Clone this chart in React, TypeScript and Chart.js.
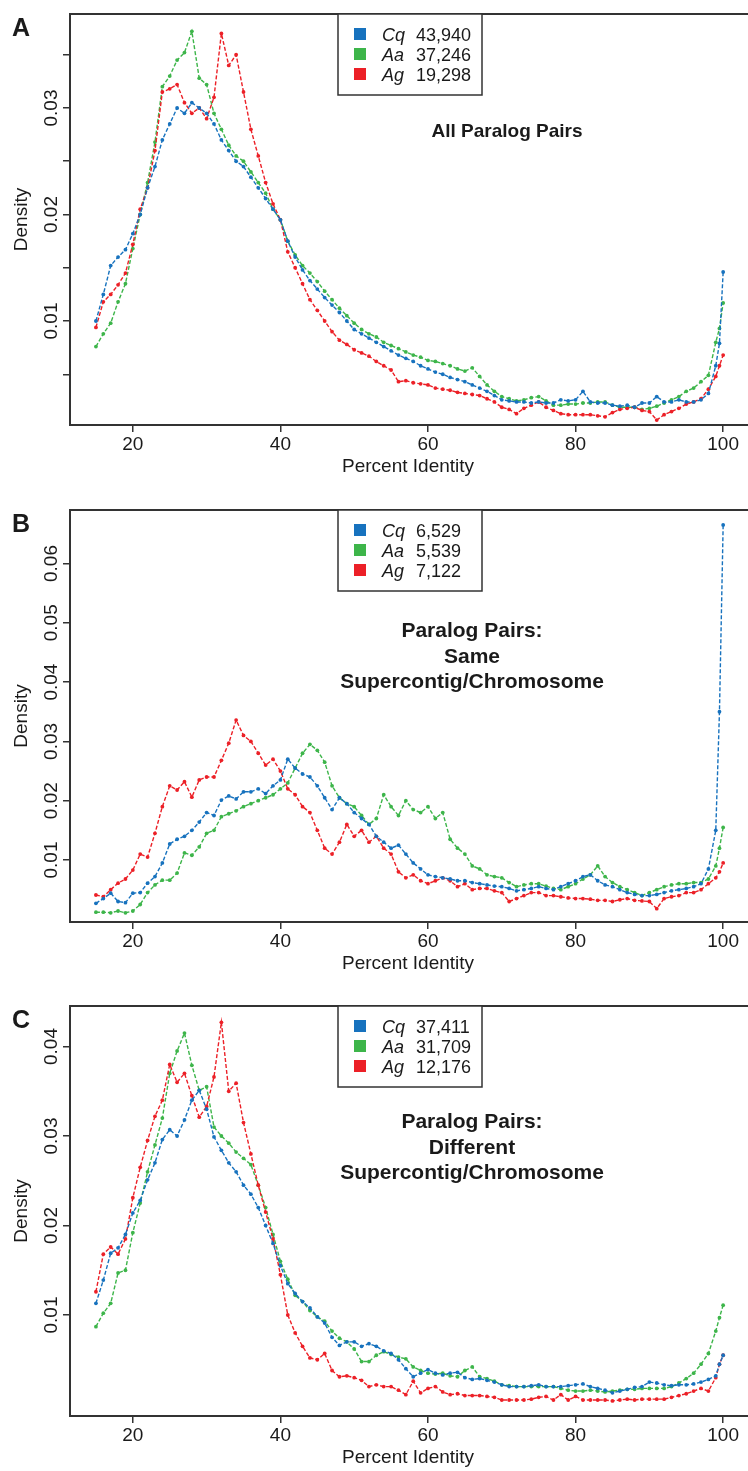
import React, { useEffect, useRef } from "react";
import { Chart, registerables } from "chart.js";

Chart.register(...registerables);

// ---------- data ----------
const PERCENT_IDENTITY = [
  15, 16, 17, 18, 19, 20, 21, 22, 23, 24,
  25, 26, 27, 28, 29, 30, 31, 32, 33, 34,
  35, 36, 37, 38, 39, 40, 41, 42, 43, 44,
  45, 46, 47, 48, 49, 50, 51, 52, 53, 54,
  55, 56, 57, 58, 59, 60, 61, 62, 63, 64,
  65, 66, 67, 68, 69, 70, 71, 72, 73, 74,
  75, 76, 77, 78, 79, 80, 81, 82, 83, 84,
  85, 86, 87, 88, 89, 90, 91, 92, 93, 94,
  95, 96, 97, 98, 99, 99.5, 100,
];

const SPECIES = ["Cq", "Aa", "Ag"];
const X_TICKS = [20, 40, 60, 80, 100];

// Panel A: all paralog pairs
const A_COUNTS = ["43,940", "37,246", "19,298"];
const A_CQ = [
  0.0100, 0.0125, 0.0152, 0.0160, 0.0167, 0.0182, 0.0200, 0.0225, 0.0245, 0.0270,
  0.0285, 0.0300, 0.0295, 0.0305, 0.0300, 0.0295, 0.0285, 0.0270, 0.0260, 0.0250,
  0.0245, 0.0235, 0.0225, 0.0215, 0.0205, 0.0195, 0.0175, 0.0160, 0.0148, 0.0138,
  0.0130, 0.0122, 0.0115, 0.0108, 0.0100, 0.0092, 0.0088, 0.0084, 0.0080, 0.0076,
  0.0072, 0.0068, 0.0065, 0.0062, 0.0058, 0.0055, 0.0052, 0.0050, 0.0047, 0.0045,
  0.0043, 0.0040, 0.0037, 0.0034, 0.0030, 0.0026, 0.0025, 0.0024, 0.0024, 0.0023,
  0.0024, 0.0023, 0.0023, 0.0026, 0.0025, 0.0026, 0.0034, 0.0024, 0.0023, 0.0023,
  0.0021, 0.0020, 0.0021, 0.0019, 0.0023, 0.0023, 0.0029, 0.0024, 0.0024, 0.0026,
  0.0024, 0.0024, 0.0026, 0.0032, 0.0058, 0.0079, 0.0146,
];
const A_AA = [
  0.0076, 0.0088, 0.0098, 0.0118, 0.0135, 0.0168, 0.0200, 0.0230, 0.0268, 0.0320,
  0.0330, 0.0345, 0.0352, 0.0372, 0.0328, 0.0322, 0.0295, 0.0280, 0.0265, 0.0255,
  0.0250, 0.0240, 0.0230, 0.0220, 0.0205, 0.0195, 0.0175, 0.0162, 0.0152, 0.0145,
  0.0137, 0.0128, 0.0120, 0.0112, 0.0105, 0.0098, 0.0092, 0.0088, 0.0085, 0.0080,
  0.0077, 0.0074, 0.0071, 0.0068, 0.0066, 0.0063, 0.0062, 0.0060, 0.0058, 0.0055,
  0.0053, 0.0056, 0.0048, 0.0040, 0.0034, 0.0029, 0.0027, 0.0025, 0.0026, 0.0028,
  0.0029, 0.0025, 0.0021, 0.0021, 0.0022, 0.0022, 0.0023, 0.0023, 0.0024, 0.0024,
  0.0021, 0.0019, 0.0019, 0.0019, 0.0017, 0.0018, 0.0020, 0.0023, 0.0026, 0.0029,
  0.0034, 0.0037, 0.0043, 0.0049, 0.0080, 0.0093, 0.0117,
];
const A_AG = [
  0.0094, 0.0118, 0.0125, 0.0134, 0.0145, 0.0172, 0.0205, 0.0225, 0.0260, 0.0315,
  0.0318, 0.0322, 0.0305, 0.0295, 0.0300, 0.0290, 0.0310, 0.0370, 0.0340, 0.0350,
  0.0315, 0.0280, 0.0255, 0.0230, 0.0210, 0.0195, 0.0165, 0.0150, 0.0135, 0.0120,
  0.0110, 0.0100, 0.0090, 0.0082, 0.0078, 0.0073, 0.0070, 0.0067, 0.0062, 0.0058,
  0.0054, 0.0043, 0.0044, 0.0042, 0.0041, 0.0040, 0.0037, 0.0036, 0.0035, 0.0033,
  0.0032, 0.0031, 0.0030, 0.0027, 0.0024, 0.0019, 0.0017, 0.0013, 0.0018, 0.0021,
  0.0024, 0.0019, 0.0016, 0.0013, 0.0012, 0.0012, 0.0012, 0.0012, 0.0011, 0.0010,
  0.0014, 0.0017, 0.0018, 0.0019, 0.0016, 0.0015, 0.0007, 0.0012, 0.0015, 0.0018,
  0.0022, 0.0024, 0.0027, 0.0036, 0.0048, 0.0058, 0.0068,
];

// Panel B: same supercontig/chromosome
const B_COUNTS = ["6,529", "5,539", "7,122"];
const B_CQ = [
  0.0027, 0.0035, 0.0044, 0.0030, 0.0028, 0.0044, 0.0045, 0.0061, 0.0072, 0.0095,
  0.0127, 0.0135, 0.0140, 0.0150, 0.0164, 0.0180, 0.0175, 0.0201, 0.0208, 0.0203,
  0.0215, 0.0215, 0.0220, 0.0212, 0.0225, 0.0235, 0.0270, 0.0255, 0.0245, 0.0240,
  0.0225, 0.0205, 0.0185, 0.0205, 0.0195, 0.0180, 0.0170, 0.0160, 0.0140, 0.0130,
  0.0120, 0.0125, 0.0110, 0.0095, 0.0085, 0.0075, 0.0072, 0.0070, 0.0068, 0.0065,
  0.0065, 0.0062, 0.0060, 0.0058, 0.0056, 0.0055, 0.0052, 0.0048, 0.0050, 0.0052,
  0.0055, 0.0052, 0.0050, 0.0055, 0.0060, 0.0065, 0.0072, 0.0075, 0.0065, 0.0058,
  0.0055, 0.0050, 0.0045, 0.0042, 0.0040, 0.0040, 0.0042, 0.0045, 0.0048, 0.0050,
  0.0052, 0.0055, 0.0060, 0.0085, 0.0150, 0.0350, 0.0665,
];
const B_AA = [
  0.0012, 0.0012, 0.0011, 0.0014, 0.0011, 0.0014, 0.0025, 0.0045, 0.0058, 0.0066,
  0.0066, 0.0078, 0.0112, 0.0108, 0.0122, 0.0145, 0.0150, 0.0173, 0.0178, 0.0183,
  0.0190, 0.0195, 0.0200, 0.0205, 0.0210, 0.0220, 0.0230, 0.0255, 0.0280, 0.0295,
  0.0285, 0.0265, 0.0225, 0.0205, 0.0195, 0.0190, 0.0175, 0.0160, 0.0170, 0.0210,
  0.0190, 0.0175, 0.0200, 0.0185, 0.0180, 0.0190, 0.0170, 0.0180, 0.0135, 0.0120,
  0.0110, 0.0090, 0.0085, 0.0075, 0.0072, 0.0070, 0.0062, 0.0055, 0.0058, 0.0060,
  0.0060, 0.0056, 0.0052, 0.0050, 0.0055, 0.0060, 0.0068, 0.0075, 0.0090, 0.0072,
  0.0062, 0.0055, 0.0050, 0.0045, 0.0040, 0.0045, 0.0050, 0.0055, 0.0058, 0.0060,
  0.0060, 0.0062, 0.0062, 0.0068, 0.0090, 0.0120, 0.0155,
];
const B_AG = [
  0.0041, 0.0038, 0.0050, 0.0061, 0.0068, 0.0083, 0.0110, 0.0105, 0.0145, 0.0190,
  0.0225, 0.0218, 0.0232, 0.0206, 0.0235, 0.0240, 0.0240, 0.0268, 0.0297, 0.0336,
  0.0310, 0.0300, 0.0280, 0.0260, 0.0270, 0.0250, 0.0220, 0.0210, 0.0190, 0.0180,
  0.0150, 0.0120, 0.0110, 0.0130, 0.0160, 0.0140, 0.0150, 0.0130, 0.0140, 0.0120,
  0.0110, 0.0080, 0.0070, 0.0075, 0.0065, 0.0060, 0.0065, 0.0070, 0.0065, 0.0055,
  0.0060, 0.0050, 0.0052, 0.0052, 0.0048, 0.0045, 0.0030, 0.0035, 0.0040, 0.0045,
  0.0045, 0.0040, 0.0040, 0.0038, 0.0036, 0.0035, 0.0035, 0.0034, 0.0032, 0.0032,
  0.0030, 0.0033, 0.0035, 0.0032, 0.0031, 0.0030, 0.0018, 0.0035, 0.0038, 0.0040,
  0.0045, 0.0045, 0.0050, 0.0060, 0.0070, 0.0080, 0.0095,
];

// Panel C: different supercontig/chromosome
const C_COUNTS = ["37,411", "31,709", "12,176"];
const C_CQ = [
  0.0113, 0.0139, 0.0169, 0.0175, 0.0190, 0.0214, 0.0228, 0.0251, 0.0270, 0.0296,
  0.0307, 0.0300, 0.0318, 0.0340, 0.0351, 0.0330, 0.0299, 0.0284, 0.0270, 0.0260,
  0.0245, 0.0235, 0.0220, 0.0200, 0.0180, 0.0155, 0.0135, 0.0124, 0.0115, 0.0108,
  0.0098, 0.0091, 0.0075, 0.0066, 0.0070, 0.0070, 0.0065, 0.0068, 0.0065, 0.0060,
  0.0057, 0.0050, 0.0040, 0.0031, 0.0035, 0.0039, 0.0035, 0.0033, 0.0035, 0.0036,
  0.0030, 0.0028, 0.0029, 0.0027, 0.0025, 0.0022, 0.0020, 0.0020, 0.0020, 0.0021,
  0.0022, 0.0020, 0.0020, 0.0020, 0.0021, 0.0022, 0.0023, 0.0020, 0.0018, 0.0016,
  0.0013, 0.0015, 0.0017, 0.0019, 0.0020, 0.0025, 0.0024, 0.0022, 0.0021, 0.0022,
  0.0022, 0.0023, 0.0025, 0.0028, 0.0032, 0.0045, 0.0055,
];
const C_AA = [
  0.0087, 0.0102, 0.0113, 0.0147, 0.0150, 0.0192, 0.0225, 0.0260, 0.0290, 0.0320,
  0.0370, 0.0395, 0.0415, 0.0379, 0.0351, 0.0355, 0.0310, 0.0300, 0.0292, 0.0282,
  0.0275, 0.0268, 0.0245, 0.0220, 0.0190, 0.0160, 0.0140, 0.0122, 0.0115, 0.0105,
  0.0098, 0.0093, 0.0082, 0.0074, 0.0070, 0.0062, 0.0048, 0.0048, 0.0055, 0.0059,
  0.0056, 0.0053, 0.0051, 0.0042, 0.0038, 0.0035, 0.0034, 0.0035, 0.0032, 0.0031,
  0.0038, 0.0042, 0.0031, 0.0029, 0.0026, 0.0022, 0.0021, 0.0020, 0.0020, 0.0020,
  0.0020, 0.0020, 0.0020, 0.0018, 0.0016, 0.0015, 0.0015, 0.0016, 0.0015, 0.0014,
  0.0015, 0.0016, 0.0017, 0.0017, 0.0018, 0.0018, 0.0018, 0.0018, 0.0020, 0.0024,
  0.0029, 0.0035, 0.0045, 0.0057, 0.0082, 0.0097, 0.0111,
];
const C_AG = [
  0.0126, 0.0168, 0.0176, 0.0168, 0.0185, 0.0231, 0.0265, 0.0295, 0.0322, 0.0340,
  0.0380, 0.0360, 0.0370, 0.0345, 0.0321, 0.0333, 0.0366, 0.0427, 0.0350, 0.0359,
  0.0315, 0.0280, 0.0245, 0.0215, 0.0185, 0.0145, 0.0100, 0.0080, 0.0065, 0.0052,
  0.0050, 0.0057, 0.0038, 0.0031, 0.0032, 0.0030, 0.0027, 0.0020, 0.0022, 0.0020,
  0.0020, 0.0016, 0.0011, 0.0026, 0.0013, 0.0018, 0.0020, 0.0014, 0.0011, 0.0012,
  0.0010, 0.0010, 0.0010, 0.0009, 0.0008, 0.0005, 0.0005, 0.0005, 0.0005, 0.0006,
  0.0008, 0.0009, 0.0005, 0.0011, 0.0005, 0.0009, 0.0005, 0.0005, 0.0005, 0.0005,
  0.0004, 0.0005, 0.0006, 0.0005, 0.0006, 0.0006, 0.0006, 0.0006, 0.0008, 0.0010,
  0.0012, 0.0015, 0.0018, 0.0015, 0.0030, 0.0045, 0.0055,
];

const A_Y_TICKS = [0.005, 0.01, 0.015, 0.02, 0.025, 0.03, 0.035];
const A_Y_LABELS = [0.01, 0.02, 0.03];
const B_Y_TICKS = [0.01, 0.02, 0.03, 0.04, 0.05, 0.06];
const B_Y_LABELS = [0.01, 0.02, 0.03, 0.04, 0.05, 0.06];
const C_Y_TICKS = [0.01, 0.02, 0.03, 0.04];
const C_Y_LABELS = [0.01, 0.02, 0.03, 0.04];

// ---------- styles ----------
const FONT = '"Liberation Sans", Arial, Helvetica, sans-serif';
const TEXT = "#1a1a1a";
const AXIS = "#333333";
const COLORS = ["#1772be", "#3db54a", "#ec2027"]; // Cq, Aa, Ag

type PanelCfg = {
  letter: string;
  canvasTop: number;
  height: number;
  plotTop: number;
  plotBottom: number;
  yMin: number;
  yMax: number;
  yTicks: number[];
  yLabels: number[];
  series: number[][];
  counts: string[];
  title: string[];
  titleSize: number;
  titleX: number;
  titleBaseline: number;
  letterBaseline: number;
};

const PANELS: PanelCfg[] = [
  {
    letter: "A", canvasTop: 0, height: 490, plotTop: 14, plotBottom: 425,
    yMin: 0.000235, yMax: 0.038826, yTicks: A_Y_TICKS, yLabels: A_Y_LABELS,
    series: [A_CQ, A_AA, A_AG], counts: A_COUNTS,
    title: ["All Paralog Pairs"], titleSize: 19, titleX: 507, titleBaseline: 137, letterBaseline: 36,
  },
  {
    letter: "B", canvasTop: 490, height: 490, plotTop: 510, plotBottom: 922,
    yMin: -0.000455, yMax: 0.06902, yTicks: B_Y_TICKS, yLabels: B_Y_LABELS,
    series: [B_CQ, B_AA, B_AG], counts: B_COUNTS,
    title: ["Paralog Pairs:", "Same", "Supercontig/Chromosome"], titleSize: 21, titleX: 472, titleBaseline: 637, letterBaseline: 532,
  },
  {
    letter: "C", canvasTop: 980, height: 491, plotTop: 1006, plotBottom: 1416,
    yMin: -0.001285, yMax: 0.044525, yTicks: C_Y_TICKS, yLabels: C_Y_LABELS,
    series: [C_CQ, C_AA, C_AG], counts: C_COUNTS,
    title: ["Paralog Pairs:", "Different", "Supercontig/Chromosome"], titleSize: 21, titleX: 472, titleBaseline: 1128, letterBaseline: 1028,
  },
];

function decorPlugin(p: PanelCfg) {
  return {
    id: "decor" + p.letter,
    afterDraw(chart: any) {
      const ctx = chart.ctx as CanvasRenderingContext2D;
      const a = chart.chartArea;
      const xs = chart.scales.x;
      const ys = chart.scales.y;
      const off = p.canvasTop;
      ctx.save();
      // frame (right side falls outside the page)
      ctx.strokeStyle = AXIS;
      ctx.lineWidth = 2;
      ctx.strokeRect(a.left, a.top, a.right - a.left + 30, a.bottom - a.top);

      ctx.fillStyle = TEXT;
      // y tick labels, rotated
      ctx.font = `19px ${FONT}`;
      for (const v of p.yLabels) {
        const y = ys.getPixelForValue(v);
        ctx.save();
        ctx.translate(a.left - 13, y);
        ctx.rotate(-Math.PI / 2);
        ctx.textAlign = "center";
        ctx.textBaseline = "alphabetic";
        ctx.fillText(v.toFixed(2), 0, 0);
        ctx.restore();
      }
      // y title
      ctx.save();
      ctx.translate(27, (a.top + a.bottom) / 2);
      ctx.rotate(-Math.PI / 2);
      ctx.textAlign = "center";
      ctx.fillText("Density", 0, 0);
      ctx.restore();
      // x tick labels
      ctx.textAlign = "center";
      ctx.textBaseline = "alphabetic";
      for (const v of X_TICKS) {
        ctx.fillText(String(v), xs.getPixelForValue(v), a.bottom + 25);
      }
      ctx.fillText("Percent Identity", (a.left + a.right) / 2, a.bottom + 47);

      // panel letter
      ctx.textAlign = "left";
      ctx.font = `bold 25px ${FONT}`;
      ctx.fillText(p.letter, 12, p.letterBaseline - off);

      // title
      ctx.textAlign = "center";
      ctx.font = `bold ${p.titleSize}px ${FONT}`;
      p.title.forEach((line, i) => {
        ctx.fillText(line, p.titleX, p.titleBaseline - off + i * 25.5);
      });

      // legend
      const lx = 338, lw = 144, lh = 81;
      ctx.fillStyle = "#ffffff";
      ctx.fillRect(lx, a.top, lw, lh);
      ctx.strokeStyle = AXIS;
      ctx.lineWidth = 1.5;
      ctx.strokeRect(lx, a.top, lw, lh);
      ctx.textAlign = "left";
      ctx.textBaseline = "alphabetic";
      SPECIES.forEach((sp, i) => {
        const cy = a.top + 20 + i * 20;
        ctx.fillStyle = COLORS[i];
        ctx.fillRect(354, cy - 6, 12, 12);
        ctx.fillStyle = TEXT;
        ctx.font = `italic 18px ${FONT}`;
        ctx.fillText(sp, 382, cy + 6.5);
        ctx.font = `18px ${FONT}`;
        ctx.fillText(p.counts[i], 416, cy + 6.5);
      });
      ctx.restore();
    },
  };
}

function Panel({ p }: { p: PanelCfg }) {
  const ref = useRef<HTMLCanvasElement | null>(null);
  useEffect(() => {
    if (!ref.current) return;
    const order = [0, 2, 1]; // Cq drawn on top
    const datasets = order.map((si) => ({
      label: SPECIES[si],
      data: PERCENT_IDENTITY.map((x, i) => ({ x, y: p.series[si][i] })),
      borderColor: COLORS[si],
      backgroundColor: COLORS[si],
      pointBackgroundColor: COLORS[si],
      borderWidth: 1.4,
      borderDash: [4, 2],
      pointRadius: 1.9,
      pointBorderWidth: 0,
      pointHoverRadius: 0,
      tension: 0,
      fill: false,
    }));
    const chart = new Chart(ref.current, {
      type: "line",
      data: { datasets },
      options: {
        animation: false,
        responsive: false,
        events: [],
        layout: { padding: { top: p.plotTop - p.canvasTop, left: 0, right: 0, bottom: 0 } },
        plugins: { legend: { display: false }, tooltip: { enabled: false }, title: { display: false } },
        scales: {
          x: {
            type: "linear",
            min: 11.486,
            max: 103.11,
            afterBuildTicks: (s: any) => { s.ticks = X_TICKS.map((v) => ({ value: v })); },
            afterFit: (s: any) => { s.height = p.canvasTop + p.height - p.plotBottom; },
            ticks: { display: false },
            border: { display: false },
            grid: { drawOnChartArea: false, drawTicks: true, tickLength: 7, tickColor: AXIS, lineWidth: 1.5 },
          },
          y: {
            type: "linear",
            min: p.yMin,
            max: p.yMax,
            afterBuildTicks: (s: any) => { s.ticks = p.yTicks.map((v) => ({ value: v })); },
            afterFit: (s: any) => { s.width = 70; },
            ticks: { display: false },
            border: { display: false },
            grid: { drawOnChartArea: false, drawTicks: true, tickLength: 7, tickColor: AXIS, lineWidth: 1.5 },
          },
        },
      },
      plugins: [decorPlugin(p)],
    } as any);
    return () => chart.destroy();
  }, [p]);
  return (
    <canvas
      ref={ref}
      width={748}
      height={p.height}
      style={{ position: "absolute", left: 0, top: p.canvasTop, width: 748, height: p.height }}
    />
  );
}

export default function App() {
  return (
    <div style={{ position: "absolute", left: 0, top: 0, width: 748, height: 1471, background: "#fff", overflow: "hidden" }}>
      {PANELS.map((p) => (
        <Panel key={p.letter} p={p} />
      ))}
    </div>
  );
}
